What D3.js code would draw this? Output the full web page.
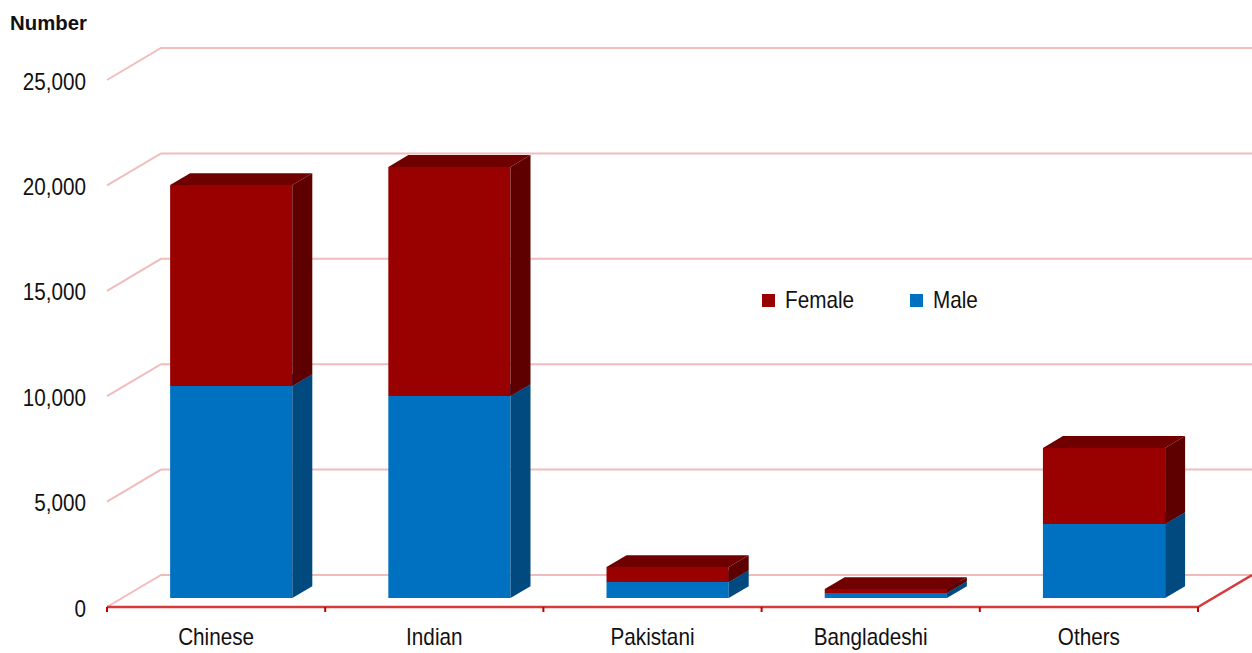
<!DOCTYPE html>
<html>
<head>
<meta charset="utf-8">
<script src="https://cdn.jsdelivr.net/npm/d3@7"></script>
<style>
  body { margin: 0; background: #fff; }
  text { font-family: "Liberation Sans", Arial, sans-serif; fill: #111; }
</style>
</head>
<body>
<div id="svgcontainer"></div>
<script>
var categories = ["Chinese", "Indian", "Pakistani", "Bangladeshi", "Others"];
var male = [10060, 9580, 760, 240, 3510];
var female = [9530, 10870, 710, 190, 3610];
var yTicks = [0, 5000, 10000, 15000, 20000, 25000];
var seriesNames = ["Female", "Male"];

var width = 1252, height = 653;
var DX = 54, DY = -32;          // depth vector of the 3d box
var z0 = 0.28, z1 = 0.65;       // bar depth range
var sx = 0.9;                   // horizontal squeeze of the text

var svg = d3.select("#svgcontainer").append("svg").attr("width", width).attr("height", height);

var x = d3.scaleBand().domain(categories).range([107, 1198]).padding(0);
var y = d3.scaleLinear().domain([0, 25000]).range([607, 80]);

function pt(px, v, z) { return [px + z * DX, y(v) + z * DY]; }
function poly(pts) { return pts.map(function(p) { return p.join(","); }).join(" "); }

function label(g, tx, ty, str, size, anchor, weight, scale) {
    return g.append("text")
        .attr("transform", "translate(" + tx + "," + ty + ") scale(" + (scale || sx) + ",1)")
        .attr("text-anchor", anchor)
        .attr("font-size", size + "px")
        .attr("font-weight", weight || "normal")
        .text(str);
}

// gridlines: side wall slant + back wall line
var grid = svg.append("g");
yTicks.forEach(function(t) {
    var a = pt(107, t, 0), b = pt(107, t, 1), c = pt(1198, t, 1);
    grid.append("polyline").attr("points", poly([a, b, c]))
        .attr("fill", "none").attr("stroke", "#f0bcbc").attr("stroke-width", 2);
});

// floor: front axis and right edge
svg.append("polyline")
    .attr("points", poly([pt(107, 0, 0), pt(1198, 0, 0), pt(1198, 0, 1)]))
    .attr("fill", "none").attr("stroke", "#d63a3a").attr("stroke-width", 2.5);

var ticks = x.domain().map(function(c) { return x(c); }).concat([1198]);
ticks.forEach(function(t) {
    svg.append("line").attr("x1", t).attr("x2", t).attr("y1", y(0)).attr("y2", y(0) + 5)
        .attr("stroke", "#c00000").attr("stroke-width", 2);
});

// y tick labels
yTicks.forEach(function(t) {
    label(svg, 86, y(t) + 9.5, d3.format(",")(t), 23, "end");
});

label(svg, 10, 30, "Number", 21, "start", "bold", 0.97);

// category labels
categories.forEach(function(c) {
    label(svg, x(c) + x.bandwidth() / 2, 645, c, 23, "middle");
});

// bars
var bw = x.bandwidth() * 0.56;
var stack = [
    { name: "Male", values: male, front: "#0070c0", side: "#004a80", top: "#005494" },
    { name: "Female", values: female, front: "#990000", side: "#5e0000", top: "#700000" }
];

categories.forEach(function(c, i) {
    var xl = x(c) + (x.bandwidth() - bw) / 2, xr = xl + bw;
    var base = 0;
    stack.forEach(function(s) {
        var lo = base, hi = base + s.values[i];
        var g = svg.append("g").attr("class", "bar " + s.name);
        g.append("polygon").attr("fill", s.front)
            .attr("points", poly([pt(xl, lo, z0), pt(xr, lo, z0), pt(xr, hi, z0), pt(xl, hi, z0)]));
        g.append("polygon").attr("fill", s.side)
            .attr("points", poly([pt(xr, lo, z0), pt(xr, lo, z1), pt(xr, hi, z1), pt(xr, hi, z0)]));
        g.append("polygon").attr("fill", s.top)
            .attr("points", poly([pt(xl, hi, z0), pt(xr, hi, z0), pt(xr, hi, z1), pt(xl, hi, z1)]));
        base = hi;
    });
});

// legend
var legend = svg.append("g");
var legendX = [762, 910];
var legendColor = { Female: "#990000", Male: "#0070c0" };
seriesNames.forEach(function(n, i) {
    legend.append("rect").attr("x", legendX[i]).attr("y", 294).attr("width", 13).attr("height", 13)
        .attr("fill", legendColor[n]);
    label(legend, legendX[i] + 23, 308, n, 23, "start");
});
</script>
</body>
</html>
